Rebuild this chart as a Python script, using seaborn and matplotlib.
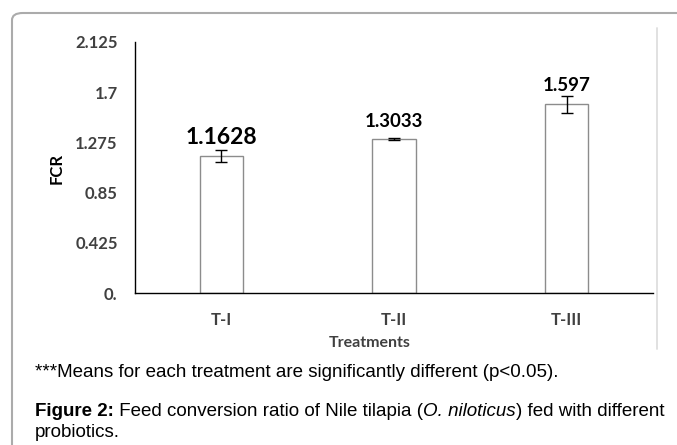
"""Feed conversion ratio bar chart with error bars and figure caption."""

import matplotlib
matplotlib.use("Agg")
import matplotlib.pyplot as plt
from matplotlib.patches import FancyBboxPatch
from matplotlib.lines import Line2D
import seaborn as sns

treatments = ["T-I", "T-II", "T-III"]
fcr = [1.1628, 1.3033, 1.597]
fcr_err = [0.05, 0.01, 0.07]
value_labels = ["1.1628", "1.3033", "1.597"]
y_ticks = [0, 0.425, 0.85, 1.275, 1.7, 2.125]
y_tick_labels = ["0.", "0.425", "0.85", "1.275", "1.7", "2.125"]

note_text = "***Means for each treatment are significantly different (p<0.05)."
caption_parts = [("Figure 2:", "bold", "normal"), (" Feed conversion ratio of Nile tilapia (", "normal", "normal"),
                 ("O. niloticus", "normal", "italic"), (") fed with different", "normal", "normal")]
caption_line2 = "probiotics."

sns.set_theme(style="white")
plt.rcParams["font.family"] = ["Lato", "DejaVu Sans"]

W, H = 677, 445
fig = plt.figure(figsize=(W / 100, H / 100), dpi=100)
ax = fig.add_axes([135 / W, 1 - 293 / H, 518 / W, 251 / H])

sns.barplot(x=treatments, y=fcr, ax=ax, width=0.25, color="white", edgecolor="#8c8c8c",
            linewidth=1.0, errorbar=None, saturation=1)
ax.errorbar(range(len(fcr)), fcr, yerr=fcr_err, fmt="none", ecolor="black", elinewidth=1, capsize=4, capthick=1)

# value labels: size and gap above the error bar (points) per bar
label_sizes = [16.5, 13.5, 13.5]
label_offsets = [4.3, 8, 3.6]
for i, (v, e, txt) in enumerate(zip(fcr, fcr_err, value_labels)):
    ax.annotate(txt, (i, v + e), xytext=(0, label_offsets[i]), textcoords="offset points",
                ha="center", va="baseline", fontsize=label_sizes[i], fontweight="bold", color="black")

ax.set_ylim(0, 2.125)
ax.set_yticks(y_ticks)
ax.set_yticklabels(y_tick_labels)
ax.set_xlim(-0.5, 2.5)
ax.tick_params(axis="both", length=0, labelsize=12, colors="#404040")
ax.tick_params(axis="y", pad=12.5)
ax.tick_params(axis="x", pad=14)
for lab in ax.get_xticklabels() + ax.get_yticklabels():
    lab.set_fontweight("bold")
ax.set_xlabel("Treatments", fontsize=11.5, fontweight="bold", color="#404040")
ax.xaxis.set_label_coords((370 - 135) / 518, (293 - 336) / 251)
ax.set_ylabel("FCR", fontsize=12, fontweight="bold", color="black")
ax.yaxis.set_label_coords((57 - 135) / 518, (293 - 168) / 251)
ax.yaxis.label.set_va("center")
ax.spines[["top", "right"]].set_visible(False)
for s in ("left", "bottom"):
    ax.spines[s].set_color("black")
    ax.spines[s].set_linewidth(1.0)

# outer rounded frame and chart-area right border
frame = FancyBboxPatch((12 / W, -0.1), 1.2, 1 - 13 / H + 0.1, transform=fig.transFigure,
                       boxstyle="round,pad=0,rounding_size=0.016", fill=False, edgecolor="#ababab", lw=1.5)
fig.patches.append(frame)
fig.lines.append(Line2D([657 / W, 657 / W], [1 - 28 / H, 1 - 349 / H], transform=fig.transFigure,
                        color="#dedede", lw=1.3))

cap_font = ["Liberation Sans", "DejaVu Sans"]
cap_size = 13.5
cap_x = 35 / W
fig.text(cap_x, 1 - 377 / H, note_text, fontsize=cap_size, family=cap_font, va="baseline", color="black")

renderer = fig.canvas.get_renderer()
x = cap_x
for txt, weight, style in caption_parts:
    t = fig.text(x, 1 - 416 / H, txt, fontsize=cap_size, family=cap_font, fontweight=weight, fontstyle=style,
                 va="baseline", color="black")
    bb = t.get_window_extent(renderer=renderer)
    x += bb.width / W
fig.text(cap_x, 1 - 437 / H, caption_line2, fontsize=cap_size, family=cap_font, va="baseline", color="black")

fig.savefig("out.png", dpi=100)
